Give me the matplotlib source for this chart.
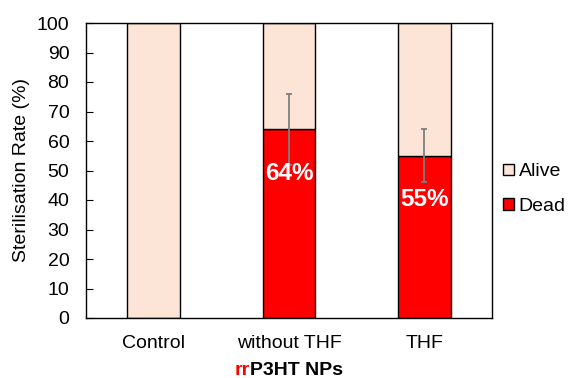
import matplotlib
matplotlib.use("Agg")
import matplotlib.pyplot as plt
from matplotlib.patches import Patch
from matplotlib.offsetbox import TextArea, HPacker, AnnotationBbox

plt.rcParams['font.family'] = ['Liberation Sans', 'DejaVu Sans']

categories = ["Control", "without THF", "THF"]
dead = [0, 64, 55]
alive = [100, 36, 45]
dead_err = [0, 12, 9]
dead_labels = ["", "64%", "55%"]

ALIVE_C = "#FCE4D6"
DEAD_C = "#FF0000"
FS = 14

fig = plt.figure(figsize=(5.69, 3.78), dpi=100)
ax = fig.add_axes([86 / 569, 1 - 318 / 378, 406 / 569, 295 / 378])

x = list(range(len(categories)))
w = 0.39
ax.bar(x, dead, w, color=DEAD_C, edgecolor="black", linewidth=1, zorder=2)
ax.bar(x, alive, w, bottom=dead, color=ALIVE_C, edgecolor="black", linewidth=1, zorder=2)

for i in x:
    if dead_err[i] > 0:
        ax.errorbar(i, dead[i], yerr=dead_err[i], fmt="none", ecolor="#7f7f7f",
                    elinewidth=1.3, capsize=2.5, capthick=1.3, zorder=3)
    if dead_labels[i]:
        ax.text(i, dead[i] - 15, dead_labels[i], ha="center", va="center",
                color="white", fontsize=17.5, fontweight="bold", zorder=4)

ax.set_xlim(-0.5, 2.5)
ax.set_ylim(0, 100)
ax.set_yticks(range(0, 101, 10))
ax.tick_params(axis="y", direction="in", length=5, labelsize=FS, pad=12)
ax.tick_params(axis="x", length=0, labelsize=FS, pad=12)
ax.set_xticks(x)
ax.set_xticklabels(categories)
ax.set_ylabel("Sterilisation Rate (%)", fontsize=FS, labelpad=5)
for s in ax.spines.values():
    s.set_linewidth(1)

# x-axis title with red "rr"
parts = HPacker(children=[
    TextArea("rr", textprops=dict(color="red", fontsize=FS, fontweight="bold")),
    TextArea("P3HT NPs", textprops=dict(color="black", fontsize=FS, fontweight="bold")),
], align="baseline", pad=0, sep=0)
ab = AnnotationBbox(parts, (0.5, -0.178), xycoords="axes fraction",
                    frameon=False, box_alignment=(0.5, 0.5), annotation_clip=False)
ax.add_artist(ab)

handles = [Patch(facecolor=ALIVE_C, edgecolor="black", label="Alive"),
           Patch(facecolor=DEAD_C, edgecolor="black", label="Dead")]
fig.legend(handles=handles, loc="center left", bbox_to_anchor=(503 / 569, 1 - 189 / 378),
           frameon=False, fontsize=FS, handlelength=0.55, handleheight=0.55,
           handletextpad=0.25, labelspacing=0.9, borderpad=0, borderaxespad=0)

fig.savefig("out.png", dpi=100)
